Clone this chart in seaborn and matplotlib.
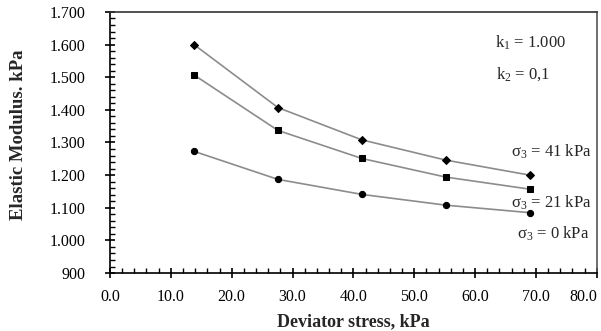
import matplotlib
matplotlib.use("Agg")
import matplotlib.pyplot as plt
import seaborn as sns
import pandas as pd
from matplotlib.ticker import MultipleLocator, FuncFormatter

deviator_stress = [13.8, 27.6, 41.4, 55.2, 69.0]
modulus_41 = [1600, 1407, 1308, 1246, 1200]
modulus_21 = [1507, 1337, 1251, 1194, 1157]
modulus_0 = [1273, 1187, 1141, 1108, 1085]
series_labels = ["σ3 = 41 kPa", "σ3 = 21 kPa", "σ3 = 0 kPa"]

rows = []
for lab, vals in zip(series_labels, [modulus_41, modulus_21, modulus_0]):
    for x, y in zip(deviator_stress, vals):
        rows.append({"x": x, "y": y, "series": lab})
df = pd.DataFrame(rows)

sns.set_style("ticks")
plt.rcParams["font.family"] = ["Liberation Serif", "DejaVu Serif"]
plt.rcParams["mathtext.fontset"] = "custom"
plt.rcParams["mathtext.rm"] = "Liberation Serif"
plt.rcParams["mathtext.it"] = "Liberation Serif:italic"
plt.rcParams["mathtext.bf"] = "Liberation Serif:bold"

fig = plt.figure(figsize=(6.01, 3.31), dpi=100)
ax = fig.add_axes([0.183, 0.175, 0.810, 0.789])

markers = {series_labels[0]: "D", series_labels[1]: "s", series_labels[2]: "o"}
msizes = {series_labels[0]: 4, series_labels[1]: 5, series_labels[2]: 4.5}
for lab in series_labels:
    sub = df[df["series"] == lab]
    sns.lineplot(data=sub, x="x", y="y", ax=ax, color="#8c8c8c", linewidth=1.2,
                 marker=markers[lab], markersize=msizes[lab],
                 markerfacecolor="black", markeredgecolor="black", legend=False)

ax.set_xlim(0, 80)
ax.set_ylim(900, 1700)
ax.set_xticks([0, 10, 20, 30, 40, 50, 60, 70, 80])
ax.xaxis.set_minor_locator(MultipleLocator(2))
ax.yaxis.set_major_locator(MultipleLocator(100))
ax.yaxis.set_minor_locator(MultipleLocator(20))
ax.xaxis.set_major_formatter(FuncFormatter(lambda v, p: f"{v:.1f}"))
ax.yaxis.set_major_formatter(FuncFormatter(lambda v, p: f"{v:,.0f}".replace(",", ".")))

ax.tick_params(axis="both", which="major", direction="inout", length=7, width=1.2,
               labelsize=11.5, colors="black")
ax.tick_params(axis="both", which="minor", direction="in", length=3.5, width=1.0, colors="black")
ax.tick_params(axis="x", which="major", pad=8)
ax.tick_params(axis="y", which="major", pad=14)

for s in ax.spines.values():
    s.set_visible(True)
    s.set_color("black")
    s.set_linewidth(1.2)
ax.spines["top"].set_color("#333333")
ax.spines["right"].set_color("#555555")

ax.set_xlabel("Deviator stress, kPa", fontsize=13, fontweight="bold", labelpad=6)
ax.set_ylabel("Elastic Modulus. kPa", fontsize=13.5, fontweight="bold")
ax.yaxis.set_label_coords(-0.170, 0.53)

ax.text(0.79, 0.88, "k$_1$ = 1.000", transform=ax.transAxes, fontsize=12, va="center", ha="left")
ax.text(0.793, 0.76, "k$_2$ = 0,1", transform=ax.transAxes, fontsize=12, va="center", ha="left")
ax.text(0.99, 0.465, "σ$_3$ = 41 kPa", transform=ax.transAxes, fontsize=12, va="center", ha="right")
ax.text(0.99, 0.27, "σ$_3$ = 21 kPa", transform=ax.transAxes, fontsize=12, va="center", ha="right")
ax.text(0.985, 0.15, "σ$_3$ = 0 kPa", transform=ax.transAxes, fontsize=12, va="center", ha="right")

fig.canvas.draw()
ax.xaxis.get_major_ticks()[-1].label1.set_horizontalalignment("right")

fig.savefig("out.png", dpi=100)
